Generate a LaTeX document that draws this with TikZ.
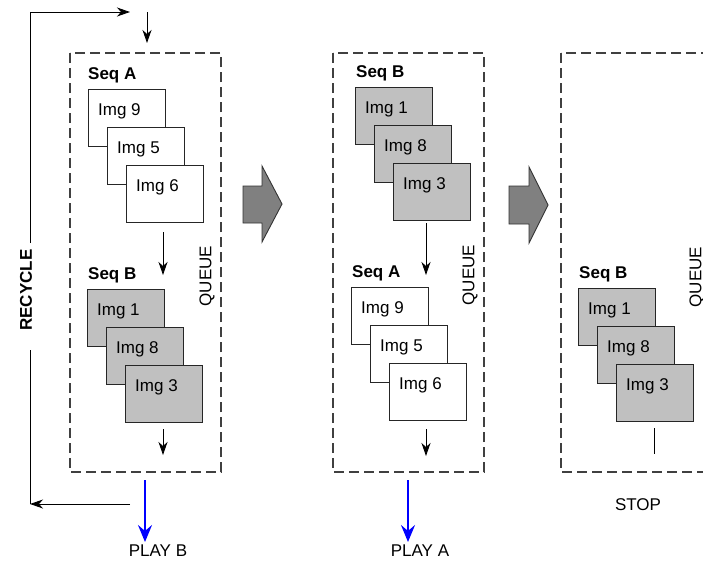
\documentclass[tikz,border=0pt]{standalone}
\usepackage{fontspec}
\setmainfont{Liberation Sans}
\usetikzlibrary{arrows.meta}

\definecolor{imggray}{RGB}{192,192,192}
\definecolor{bigarrow}{RGB}{128,128,128}
\definecolor{dashgray}{RGB}{64,64,64}

\begin{document}
\begin{tikzpicture}[x=1pt,y=-1pt,font=\fontsize{17}{20}\selectfont,
  img/.style n args={2}{draw=black!85,fill=#1,line width=0.9pt,minimum width=77pt,minimum height=57pt,
    anchor=north west,inner sep=0pt,
    label={[anchor=base west,xshift=10pt,yshift=-26pt,inner sep=0pt]north west:#2}},
  seqlbl/.style={anchor=base west,inner sep=0pt,font=\fontsize{17}{20}\selectfont\bfseries},
  qbox/.style={draw=dashgray,line width=1.1pt,dash pattern=on 10pt off 5pt},
  arr/.style={-{Stealth[length=13pt,width=9pt,inset=4pt]},line width=0.9pt},
  play/.style={-{Stealth[length=17pt,width=14pt,inset=6pt]},blue,line width=2.2pt},
  bigarr/.style={draw=black!80,fill=bigarrow,line width=0.9pt},
  txt/.style={anchor=base,inner sep=0pt}]
\useasboundingbox (0,0) rectangle (703,563);
\clip (0,0) rectangle (703,563);

% --- first queue: Seq A then Seq B
\draw[qbox] (70,53) rectangle (221,472);
\node[seqlbl] (p1sa) at (88,79) {Seq A};
\foreach \t [count=\k from 0] in {9,5,6}
  \node[img={white}{Img \t}] (p1a\t) at (88+19*\k,89+38*\k) {};
\node[seqlbl] (p1sb) at (88,279) {Seq B};
\foreach \t [count=\k from 0] in {1,8,3}
  \node[img={imggray}{Img \t}] (p1b\t) at (87+19*\k,289+38*\k) {};
\node[rotate=90,inner sep=0pt] (p1q) at (207,276) {QUEUE};
\coordinate (p1m1) at (163,232);
\coordinate (p1m2) at (163,275);
\coordinate (p1o1) at (163,429);
\coordinate (p1o2) at (163,455);
\draw[arr] (p1m1) -- (p1m2);
\draw[arr] (p1o1) -- (p1o2);

% recycle loop
\node[rotate=90,inner sep=0pt,font=\fontsize{17}{20}\selectfont\bfseries] (rec) at (26,290) {RECYCLE};
\coordinate (rup) at (30,243);
\coordinate (rtop) at (30,12);
\coordinate (rlow) at (30,350);
\coordinate (rbot) at (30,504);
\coordinate (rin) at (130,12);
\coordinate (rout) at (130,504);
\coordinate (in1) at (147,12);
\coordinate (in2) at (147,43);
\draw[line width=0.9pt] (rup) -- (rtop);
\draw[arr] (rtop) -- (rin);
\draw[arr] (rout) -- (rbot);
\draw[line width=0.9pt] (rbot) -- (rlow);
\draw[arr] (in1) -- (in2);

\coordinate (pb1) at (145,480);
\coordinate (pb2) at (145,542);
\node[txt] (playb) at (158,556) {PLAY B};
\draw[play] (pb1) -- (pb2);

% big arrow 1
\draw[bigarr] (243,186) -- (262,186) -- (262,166) -- (282,204) -- (262,242) -- (262,223) -- (243,223) -- cycle;

% --- second queue: Seq B then Seq A
\draw[qbox] (333,53) rectangle (484,472);
\node[seqlbl] (p2sb) at (356,77) {Seq B};
\foreach \t [count=\k from 0] in {1,8,3}
  \node[img={imggray}{Img \t}] (p2b\t) at (355+19*\k,87+38*\k) {};
\node[seqlbl] (p2sa) at (352,277) {Seq A};
\foreach \t [count=\k from 0] in {9,5,6}
  \node[img={white}{Img \t}] (p2a\t) at (351+19*\k,287+38*\k) {};
\node[rotate=90,inner sep=0pt] (p2q) at (470,275) {QUEUE};
\coordinate (p2m1) at (426,223);
\coordinate (p2m2) at (426,275);
\coordinate (p2o1) at (426,429);
\coordinate (p2o2) at (426,456);
\draw[arr] (p2m1) -- (p2m2);
\draw[arr] (p2o1) -- (p2o2);

\coordinate (pa1) at (408,480);
\coordinate (pa2) at (408,542);
\node[txt] (playa) at (420,556) {PLAY A};
\draw[play] (pa1) -- (pa2);

% big arrow 2
\draw[bigarr] (509,186) -- (529,186) -- (529,167) -- (548,205) -- (529,243) -- (529,224) -- (509,224) -- cycle;

% --- third queue: Seq B only
\draw[qbox] (561,53) rectangle (712,472);
\node[seqlbl] (p3sb) at (579,278) {Seq B};
\foreach \t [count=\k from 0] in {1,8,3}
  \node[img={imggray}{Img \t}] (p3b\t) at (578+19*\k,288+38*\k) {};
\node[rotate=90,inner sep=0pt] (p3q) at (697,277) {QUEUE};
\coordinate (p3o1) at (654,428);
\coordinate (p3o2) at (654,454);
\draw[line width=0.9pt] (p3o1) -- (p3o2);
\node[txt] (stop) at (638,510) {STOP};
\end{tikzpicture}
\end{document}
